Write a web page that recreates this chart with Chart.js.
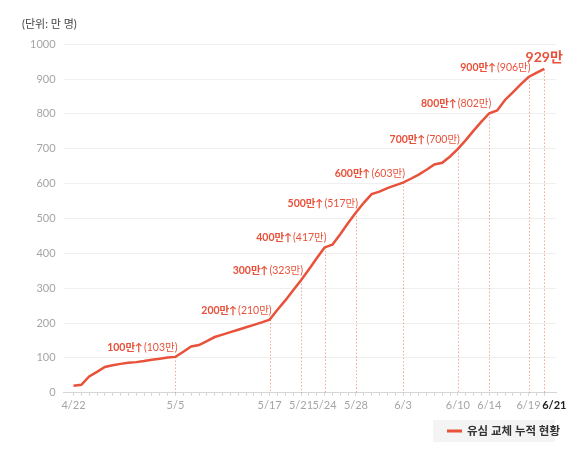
<!DOCTYPE html>
<html>
<head>
<meta charset="utf-8">
<script src="https://cdn.jsdelivr.net/npm/chart.js@4"></script>
<style>
  html, body { margin: 0; padding: 0; background: #fff; }
  #wrap { width: 580px; height: 457px; }
</style>
</head>
<body>
<div id="wrap"><canvas id="simChart"></canvas></div>
<script>
// daily labels, 4/22 ~ 6/21
const dates = [
  "4/22", "4/23", "4/24", "4/25", "4/26", "4/27", "4/28", "4/29", "4/30",
  "5/1", "5/2", "5/3", "5/4", "5/5", "5/6", "5/7", "5/8", "5/9", "5/10",
  "5/11", "5/12", "5/13", "5/14", "5/15", "5/16", "5/17", "5/18", "5/19", "5/20",
  "5/21", "5/22", "5/23", "5/24", "5/25", "5/26", "5/27", "5/28", "5/29", "5/30", "5/31",
  "6/1", "6/2", "6/3", "6/4", "6/5", "6/6", "6/7", "6/8", "6/9", "6/10",
  "6/11", "6/12", "6/13", "6/14", "6/15", "6/16", "6/17", "6/18", "6/19", "6/20", "6/21",
];

// cumulative USIM replacements (만 명)
const replaced = [
  20, 23, 47, 60, 74, 79, 83, 86, 88,
  91, 95, 98, 101, 103, 118, 133, 137, 148, 160,
  167, 174, 181, 188, 195, 202, 210, 238, 265, 294,
  323, 354, 386, 417, 425, 455, 487, 517, 545, 570, 577,
  587, 595, 603, 614, 626, 640, 655, 660, 678, 700,
  725, 752, 778, 802, 810, 840, 862, 885, 906, 918, 929,
];

// dates shown on the x axis (the last one is drawn bold, see lastLabel)
const shownDates = ["4/22", "5/5", "5/17", "5/21", "5/24", "5/28", "6/3", "6/10", "6/14", "6/19"];
const lastDate = "6/21";

// milestone callouts
const milestoneDates = ["5/5", "5/17", "5/21", "5/24", "5/28", "6/3", "6/10", "6/14", "6/19"];
const milestoneNames = ["100만", "200만", "300만", "400만", "500만", "600만", "700만", "800만", "900만"];

const yTicks = [0, 100, 200, 300, 400, 500, 600, 700, 800, 900, 1000];

const RED = "#e8513a";
const FONT = "Lato, 'Noto Sans CJK KR', sans-serif";

const milestones = {
  id: "milestones",
  beforeDatasetsDraw(chart) {
    const { ctx, scales: { x, y } } = chart;
    ctx.save();
    ctx.strokeStyle = "rgba(232, 81, 58, 0.5)";
    ctx.lineWidth = 1;
    ctx.setLineDash([1.5, 2]);
    milestoneDates.concat([lastDate]).forEach((d) => {
      const i = dates.indexOf(d);
      const px = Math.round(x.getPixelForValue(i)) + 0.5;
      ctx.beginPath();
      ctx.moveTo(px, y.getPixelForValue(replaced[i]));
      ctx.lineTo(px, y.getPixelForValue(0));
      ctx.stroke();
    });
    ctx.restore();
  },
  afterDatasetsDraw(chart) {
    const { ctx, scales: { x, y } } = chart;
    ctx.save();
    ctx.fillStyle = RED;
    ctx.textBaseline = "alphabetic";
    milestoneDates.forEach((d, k) => {
      const i = dates.indexOf(d);
      const px = x.getPixelForValue(i) + 2;
      const py = y.getPixelForValue(replaced[i]) - 6;
      const tail = "(" + replaced[i] + "만)";
      ctx.font = "400 10.5px " + FONT;
      ctx.textAlign = "right";
      ctx.fillText(tail, px, py);
      const w = ctx.measureText(tail).width;
      ctx.font = "700 10.5px " + FONT;
      ctx.fillText(milestoneNames[k] + "↑", px - w - 1, py);
    });
    const last = replaced.length - 1;
    ctx.font = "700 14px " + FONT;
    ctx.textAlign = "center";
    ctx.fillText(replaced[last] + "만", x.getPixelForValue(last), y.getPixelForValue(replaced[last]) - 7);
    ctx.restore();
  },
};

// bold end-date label, nudged right of its tick like the original
const lastLabel = {
  id: "lastLabel",
  afterDraw(chart) {
    const { ctx, scales: { x, y } } = chart;
    const i = dates.indexOf(lastDate);
    ctx.save();
    ctx.font = "700 11px " + FONT;
    ctx.fillStyle = "#222";
    ctx.textAlign = "left";
    ctx.textBaseline = "middle";
    ctx.fillText(lastDate, x.getPixelForValue(i) - 2, y.getPixelForValue(0) + 13);
    ctx.restore();
  },
};

// legend in a grey box under the right end of the plot
// (drawn by hand: measureText over-reports Hangul widths here, which pushes the built-in legend left)
const boxLegend = {
  id: "boxLegend",
  afterDraw(chart) {
    const { ctx, chartArea, scales: { x } } = chart;
    const ds = chart.data.datasets[0];
    const right = chartArea.right;
    const cy = x.bottom + 16;
    ctx.save();
    ctx.fillStyle = "#f4f4f4";
    ctx.fillRect(right - 123, cy - 11, 122, 22);
    ctx.strokeStyle = ds.borderColor;
    ctx.lineWidth = 3;
    ctx.beginPath();
    ctx.moveTo(right - 109, cy);
    ctx.lineTo(right - 94, cy);
    ctx.stroke();
    ctx.fillStyle = "#333";
    ctx.font = "700 11.5px " + FONT;
    ctx.textAlign = "left";
    ctx.textBaseline = "middle";
    ctx.fillText(ds.label, right - 89, cy);
    ctx.restore();
  },
};

let ctx = document.getElementById("simChart").getContext("2d");

let simChart = new Chart(ctx, {
  type: "line",
  data: {
    datasets: [
      {
        label: "유심 교체 누적 현황",
        data: replaced.map((v, i) => ({ x: i, y: v })),
        borderColor: RED,
        backgroundColor: RED,
        borderWidth: 2.5,
        pointRadius: 0,
        tension: 0,
      },
    ],
  },
  options: {
    responsive: true,
    maintainAspectRatio: false,
    animation: false,
    layout: {
      padding: { left: 22, right: 24, top: 18, bottom: 42 },
    },
    scales: {
      x: {
        type: "linear",
        min: -1.27,
        max: 61.5,
        afterBuildTicks: (axis) => {
          axis.ticks = dates.map((d, i) => ({ value: i }));
        },
        grid: {
          drawOnChartArea: false,
          drawTicks: true,
          tickLength: 3,
          color: "#d6d6d6",
        },
        border: { color: "#d6d6d6" },
        ticks: {
          autoSkip: false,
          maxRotation: 0,
          padding: 3,
          callback: (value) => (shownDates.includes(dates[value]) ? dates[value] : ""),
          color: "#a5a5a5",
          font: { family: FONT, size: 11 },
        },
      },
      y: {
        min: 0,
        max: 1000,
        afterBuildTicks: (axis) => {
          axis.ticks = yTicks.map((v) => ({ value: v }));
        },
        grid: { color: "#efefef", drawTicks: false },
        border: { display: false },
        ticks: {
          padding: 8,
          color: "#a5a5a5",
          font: { family: FONT, size: 11 },
          callback: (value) => String(value),
        },
      },
    },
    plugins: {
      title: {
        display: true,
        text: "(단위: 만 명)",
        align: "start",
        color: "#444",
        font: { family: FONT, size: 11, weight: "400" },
        padding: { top: 0, bottom: 13 },
      },
      legend: { display: false },
      tooltip: { enabled: false },
    },
  },
  plugins: [milestones, lastLabel, boxLegend],
});
</script>
</body>
</html>
